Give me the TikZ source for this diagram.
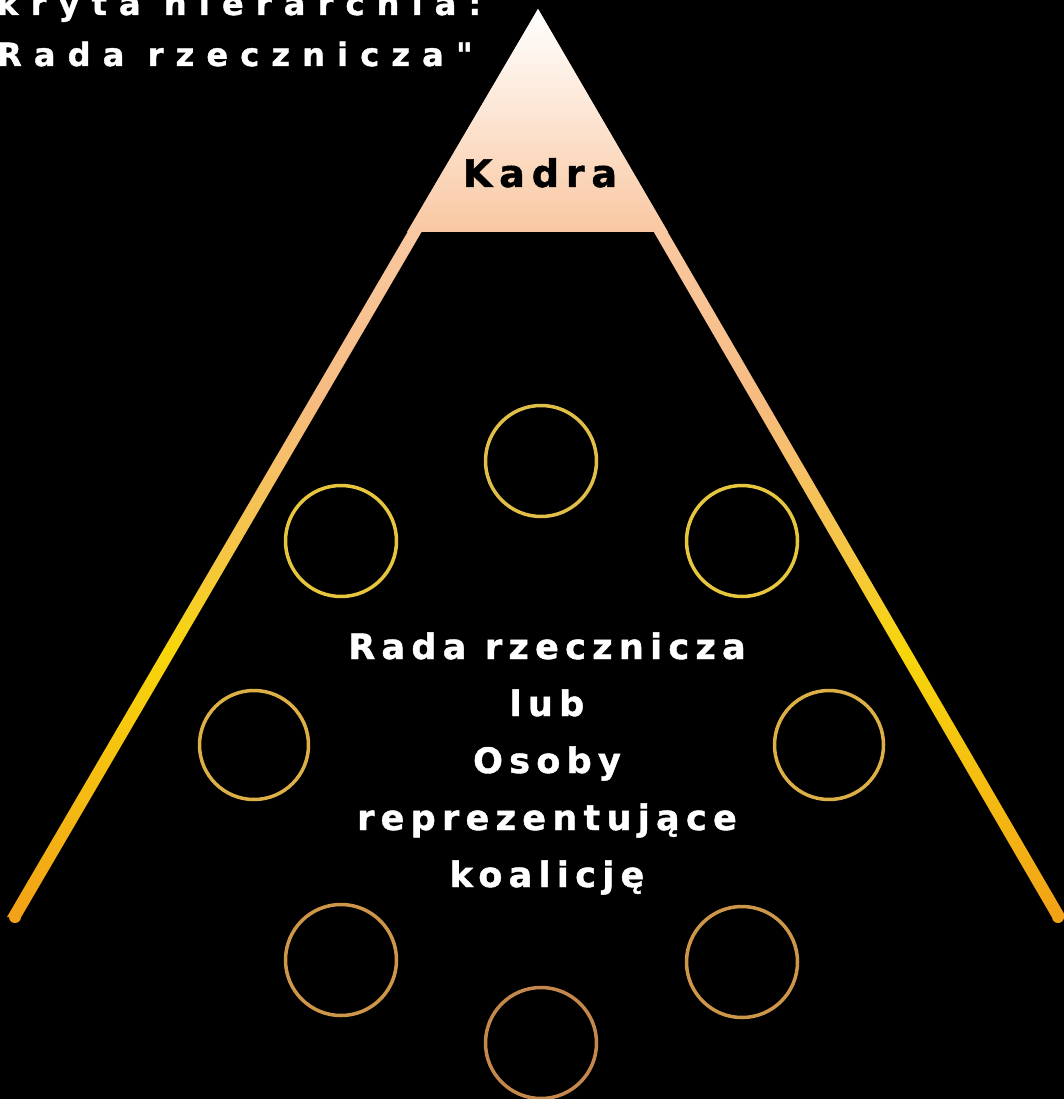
\documentclass[tikz,border=0pt]{standalone}
\usepackage{fontspec}
\setmainfont{DejaVu Sans}
\newfontfamily\labelfont{DejaVu Sans}[LetterSpace=18, BoldFeatures={FakeBold=1.2}]
\newfontfamily\titlefont{DejaVu Sans}[LetterSpace=38, BoldFeatures={FakeBold=1.2}]
\usetikzlibrary{calc}
\usetikzlibrary{positioning}

% colours of the pyramid sides, top to bottom
\definecolor{rimT}{HTML}{FDF1E8}
\definecolor{rimA}{HTML}{F9C8A2}
\definecolor{rimB}{HTML}{F6BB80}
\definecolor{rimC}{HTML}{F5C640}
\definecolor{rimD}{HTML}{F7D60A}
\definecolor{rimE}{HTML}{F5BE12}
\definecolor{rimF}{HTML}{F2A216}
% colours of the rings
\definecolor{ringA}{HTML}{E0BE48}
\definecolor{ringB}{HTML}{E6C63C}
\definecolor{ringC}{HTML}{DCB046}
\definecolor{ringD}{HTML}{CD9648}
\definecolor{ringE}{HTML}{C4884C}

\pgfdeclareverticalshading{rimshade}{100bp}{color(0bp)=(rimF); color(25bp)=(rimF);
    color(32.6bp)=(rimE); color(39.7bp)=(rimD); color(44.7bp)=(rimC);
    color(53.5bp)=(rimB); color(62.8bp)=(rimA); color(72.2bp)=(rimT);
    color(75bp)=(white); color(100bp)=(white)}

\begin{document}
\begin{tikzpicture}[
    x=1pt, y=-1pt,
    ring/.style={circle, draw, line width=3.5pt, minimum size=111pt, inner sep=0pt}]

    % background
    \path[use as bounding box, fill=black] (0,0) rectangle (1064,1099);

    % pyramid sides
    \shade[shading=rimshade] (538,9) -- (7,917) -- (1066,917) -- cycle;
    \fill[black] (538,33) -- (-144,1200) -- (1216,1200) -- cycle;
    \fill[rimF] (15,917) circle (6);
    \fill[rimF] (1058,917) circle (6);

    % top of the pyramid
    \shade[top color=white, bottom color=rimA] (538,9) -- (407,232) -- (668,232) -- cycle;
    \node[anchor=base, inner sep=0pt, font=\labelfont\bfseries\fontsize{38}{38}\selectfont] (kadra)
        at (540,187) {Kadra};

    % rings
    \node[ring, draw=ringA] (c1) at (541,461) {};
    \node[ring, draw=ringB] (c2) at (341,541) {};
    \node[ring, draw=ringB] (c3) at (742,541) {};
    \node[ring, draw=ringC, minimum size=109pt] (c4) at (254,745) {};
    \node[ring, draw=ringC, minimum size=109pt] (c5) at (829,745) {};
    \node[ring, draw=ringD] (c6) at (341,960) {};
    \node[ring, draw=ringD] (c7) at (742,962) {};
    \node[ring, draw=ringE] (c8) at (541,1043) {};

    % texts
    \node[anchor=base, inner sep=0pt, text=white, align=center,
        font=\labelfont\bfseries\fontsize{35}{57}\selectfont] (rada)
        at (547,887) {Rada rzecznicza\\lub\\Osoby\\reprezentujące\\koalicję};
    \node[anchor=base west, inner sep=0pt, text=white, align=left,
        font=\titlefont\bfseries\fontsize{32}{51}\selectfont] (title)
        at (-3,66) {kryta hierarchia:\\Rada rzecznicza"};

\end{tikzpicture}
\end{document}
